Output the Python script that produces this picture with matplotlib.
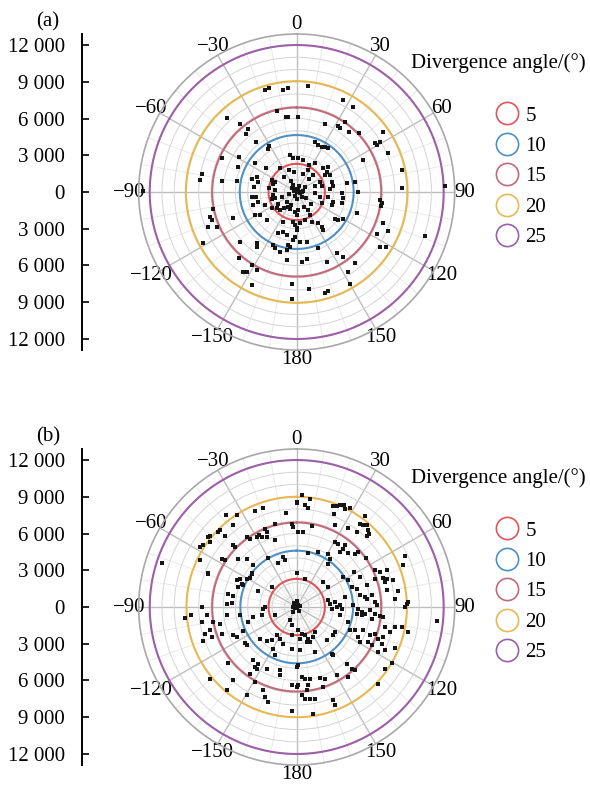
import numpy as np
import matplotlib
matplotlib.use("Agg")
import matplotlib.pyplot as plt
from matplotlib.lines import Line2D

plt.rcParams['font.family'] = ['Liberation Serif', 'DejaVu Serif']
plt.rcParams['font.size'] = 15
plt.rcParams['axes.unicode_minus'] = True

# ---------------- data ----------------
# divergence-angle contour radii
div_angles = [5, 10, 15, 20, 25]
div_colors = ['#e0555a', '#4f8fc4', '#c06a7c', '#e6b955', '#9c5fa8']
radii_a = [2300, 4650, 6900, 9050, 12000]
radii_b = [2300, 4600, 6900, 9000, 12000]

# left scale tick values
yticks_vals = [12000, 9000, 6000, 3000, 0, -3000, -6000, -9000, -12000]
angle_ticks = [0, 30, 60, 90, 120, 150, 180, 210, 240, 270, 300, 330]
angle_labels = ['0', '30', '60', '90', '120', '150', '180',
                '\u2212150', '\u2212120', '\u221290', '\u221260', '\u221230']

# scatter points (east, north components in thousands)
a_x = [-2.59, -2.24, -1.09, -0.74, -1.64, -0.90, -0.74, -5.66, -4.63, -3.95,
       -4.14, -3.32, -2.26, -2.32, -6.13, -4.68, -3.40, -2.51, -4.77, -0.55,
       -0.33, -0.60, -0.22, -7.76, -7.89, -6.13, -4.90, -3.68, -3.27, -3.13,
       -3.46, -2.05, -1.91, -12.57, -1.77, -0.14,
       -6.81, -7.08, -6.89, -7.21, -6.48, -7.62, -5.17, -4.63, -4.68, -3.68,
       -4.36, -4.09, -3.27, -3.68, -3.27, -3.22, -1.91, -1.77, -1.37, -0.82,
       -0.69, -0.55, -0.82, -1.50, -1.09, -0.82, -0.28, -0.14, -0.41, -0.41,
       -3.68, -3.32, -3.13, -3.54, -2.59, -2.05, -3.40, -3.00, -2.45, -1.91,
       -1.77, -1.64, -1.37, -0.69, -0.55, -0.14, 0.00, -0.28, -0.14, 0.00, -1.09,
       0.95, 3.80, 4.62, 0.13, 2.31, 3.40, 3.53, 3.94, 4.27, 5.08,
       7.07, 6.39, 6.52, 6.80, 7.42, 1.49, 1.76, 2.04, 2.31, 2.58,
       5.44, 8.56, 8.56, 12.10, 0.13, 0.54, 1.49, 2.17, 2.44, 2.58,
       2.31, 2.72, 0.95, 1.36, 1.90, 2.04, 2.85, 2.99, 2.72, 4.08,
       4.76, 5.03, 0.13, 0.40,
       3.67, 3.80, 3.67, 2.58, 2.99, 2.85, 1.49, 1.90, 2.04, 3.12,
       3.34, 3.80, 4.89, 6.80, 6.99, 6.88, 7.07, 7.48, 6.52, 6.80,
       7.26, 10.47, 1.76, 2.04, 2.17, 0.68, 1.22, 0.27, 0.81, 1.76,
       3.26, 3.80, 2.50, 4.76, 4.16, 0.46, 0.81, 4.35, 1.00, 2.31,
       2.58, 0.13, 0.27, 0.00, 0.95, 1.09,
       0.10, -0.20, 0.30, -0.10, 0.20, -0.40, 0.50, 0.00, -0.60, 0.40,
       -0.30, 0.70, 0.00,
       -1.50, -1.00, -0.50, -2.00, -1.20, -0.80, -2.30, -1.80, -1.00, -0.50,
       1.00, 1.50, 0.80, 1.20, 0.60, 1.00, 0.50, -1.40]
a_y = [8.33, 8.52, 8.33, 8.47, 6.62, 6.16, 6.10, 6.02, 5.53, 5.15,
       4.71, 4.12, 3.76, 3.52, 2.76, 2.84, 2.35, 1.99, 2.02, 3.03,
       2.76, 1.80, 1.67, 1.45, 0.99, 0.93, 0.93, 1.07, 1.26, 0.80,
       0.44, 0.99, 0.63, 0.10, 0.17, 0.25,
       -1.42, -2.02, -2.29, -2.89, -2.89, -4.19, -2.15, -4.06, -5.42, -5.96,
       -6.50, -6.50, -6.37, -7.59, -4.19, -4.46, -4.33, -4.60, -4.87, -4.74,
       -4.33, -4.52, -5.55, -3.38, -3.24, -3.51, -3.92, -3.65, -7.51, -8.76,
       -0.38, -0.44, -0.79, -1.06, -1.06, -1.34, -1.88, -1.88, -2.29, -0.25,
       -0.52, -1.34, -1.47, -1.20, -1.42, -1.61, -1.88, -2.42, -2.70, -2.97, -2.42,
       8.69, 7.52, 6.97, 6.16, 5.53, 5.42, 5.26, 5.69, 4.93, 4.80,
       4.88, 3.98, 3.84, 4.06, 3.16, 4.12, 3.84, 3.71, 3.71, 3.63,
       2.62, 1.80, 0.36, 0.50, 2.76, 2.62, 2.35, 1.94, 1.67, 2.08,
       1.40, 1.40, 1.80, 1.40, 0.85, 0.53, 0.85, 0.53, 0.25, 0.72,
       0.85, 0.04, 0.17, 0.04,
       -0.11, -0.52, -0.93, -0.38, -0.79, -1.06, -0.11, -0.38, -0.93, -2.23,
       -2.29, -2.23, -1.69, -0.66, -0.93, -1.15, -2.56, -3.16, -3.43, -4.52,
       -4.46, -3.57, -2.56, -2.83, -3.10, -2.29, -2.42, -4.06, -4.06, -4.60,
       -4.95, -5.28, -5.69, -5.77, -6.50, -5.69, -5.47, -7.51, -7.92, -8.27,
       -8.05, -1.47, -2.56, -3.10, -1.47, -1.88,
       0.20, 0.10, -0.10, -0.30, 0.50, 0.30, 0.10, -0.60, -0.20, -0.40,
       0.60, 0.40, 0.00,
       -1.00, -1.30, -1.10, -0.60, -0.40, -0.80, 0.30, 0.80, 1.20, 0.90,
       1.10, 0.50, -0.50, -1.00, -1.20, 2.20, 1.50, 2.00]

b_x = [-3.41, -2.73, -5.77, -4.85, -0.90, 0.00, -5.17, -1.77, -0.41, -0.28,
       -2.59, -2.45, -6.26, -6.40, -7.08, -7.21, -5.85, -7.62, -7.89, -7.08,
       -5.17, -5.04, -4.09, -3.81, -3.27, -3.05, -2.86, -2.40, -1.77, -6.13,
       -5.85, -4.77, -7.89, -11.02, -4.09, -2.32, -1.09, -0.96, -1.50, -3.54,
       -3.68, -7.21, 0.00,
       0.40, 1.08, 0.00, 0.68, 0.89, 2.99, 3.26, 3.53, 3.89, 3.94,
       4.35, 3.07, 5.57, 5.16, 5.44, 5.71, 5.79, 5.90, 5.71, 4.89,
       4.21, 3.12, 1.22, 0.13, 0.54, 3.12, 3.40, 3.94, 3.80, 3.53,
       4.21, 4.76, 5.03, 5.63, 8.84, 8.70, 6.39, 6.80, 7.34, 2.58,
       2.72, 2.58, 0.95, 1.76, 4.70,
       -7.21, -4.90, -4.63, -4.49, -4.77, -4.36, -4.09, -3.81, -3.68, -2.05,
       -3.13, -5.58, -5.17, -5.72, -5.31, -7.76, -2.59, -2.73, -0.28, -9.12,
       -8.66, -7.35, -7.76, -6.81, -6.26, -5.72, -4.63, -3.54, -2.86, -3.95,
       -1.77, -0.55, -0.41, -7.49, -7.08, -6.94, -7.62, -6.13, -5.17, -4.90,
       -4.36, -4.22, -4.09, -3.00, -2.45, -2.05, -1.64, -1.37, -1.91, -0.41,
       -1.09, -1.77, -0.41, -5.58, -3.54, -3.41, -3.27, -3.13, -2.45, -1.37,
       -1.37, 0.00, -3.81, -7.08, -5.17, -3.41, -2.73, -5.72, -0.41, 0.00,
       -4.09, -2.59, -2.32, -0.41,
       0.68, 2.17, 2.58, 3.80, 4.21, 4.48, 5.16, 5.71, 6.39, 7.07,
       7.34, 7.20, 7.88, 7.34, 8.29, 8.02, 4.89, 3.94, 5.16, 5.57,
       5.71, 6.12, 6.39, 6.52, 8.97, 9.11, 8.84, 2.58, 2.72, 2.85,
       3.12, 3.26, 3.53, 3.67, 3.53, 4.62, 5.03, 5.30, 5.57, 5.98,
       6.39, 6.80, 7.07, 4.89, 5.30, 6.12, 4.21, 4.35, 4.76, 5.44,
       5.98, 6.39, 6.66, 7.07, 7.20, 7.61, 8.02, 8.56, 9.11, 8.02,
       6.93, 7.20, 7.80, 7.20, 6.66, 5.84, 6.12, 5.03, 5.16, 3.12,
       2.99, 2.44, 1.49, 1.36, 0.95, 0.81, 1.08, 0.13, 0.40, 0.68,
       0.27, 2.85, 2.99, 1.49, 4.08, 4.48, 4.76, 3.26, 4.21, 2.31,
       1.90, 0.40, 0.68, 1.08, 0.13, 0.95, 2.17, 0.81, 0.40, 0.68,
       1.08, 1.49, 2.99, 3.12, 6.66, 1.36, 11.42, 0.13, 0.27,
       0.00, 0.10, -0.10, 0.20, -0.20, 0.00, 0.30, -0.30]
b_y = [7.81, 8.08, 7.49, 7.49, 7.68, 8.49, 6.72, 6.75, 6.75, 6.53,
       6.40, 6.13, 6.26, 6.13, 5.80, 5.72, 5.80, 5.04, 4.90, 5.31,
       5.04, 4.90, 5.72, 5.55, 5.72, 5.85, 5.72, 5.72, 5.45, 3.95,
       3.87, 3.95, 3.87, 3.62, 3.95, 4.00, 4.09, 3.87, 3.62, 3.41,
       2.78, 2.78, 2.78,
       9.12, 8.85, 8.57, 8.30, 8.11, 8.22, 8.22, 8.30, 8.30, 8.03,
       8.11, 7.62, 7.40, 6.75, 6.67, 6.67, 6.26, 5.99, 5.80, 6.13,
       6.48, 6.67, 6.59, 6.13, 6.13, 5.31, 5.12, 5.04, 4.77, 4.49,
       4.41, 4.36, 4.49, 4.03, 4.14, 3.41, 3.00, 2.86, 3.00, 4.36,
       3.95, 3.54, 4.41, 4.49, 2.86,
       2.72, 2.18, 2.32, 1.91, 1.64, 1.77, 2.26, 2.37, 2.72, 1.64,
       1.31, 1.09, 0.90, 0.28, 0.36, 0.00, 0.00, -0.13, 0.00, -0.89,
       -0.62, -0.68, -1.22, -1.22, -1.36, -0.68, -0.68, -0.81, -0.68, -1.22,
       -0.68, -1.08, -1.44, -2.17, -1.90, -2.44, -2.80, -2.17, -2.31, -2.44,
       -1.98, -2.91, -3.07, -2.58, -2.80, -2.72, -2.31, -2.58, -3.40, -2.31,
       -2.99, -3.89, -3.45, -4.54, -4.35, -4.89, -5.03, -4.62, -5.03, -5.16,
       -5.52, -4.89, -5.44, -5.84, -5.98, -6.12, -6.80, -6.80, -6.39, -6.52,
       -7.20, -7.34, -7.75, -8.51,
       2.32, 2.04, 1.64, 2.45, 2.18, 1.64, 2.45, 1.83, 2.32, 2.37,
       2.32, 2.04, 2.18, 1.36, 1.28, 0.68, 1.50, 0.82, 0.96, 0.82,
       0.63, 1.01, 0.41, 0.14, 0.28, 0.41, 0.00, 0.55, 0.28, -0.13,
       0.41, 0.00, 0.14, -0.13, -0.68, 0.14, -0.13, -0.40, -0.54, -0.27,
       -0.54, -0.73, -0.81, -0.54, -0.68, -0.95, -1.22, -1.90, -1.90, -1.90,
       -2.31, -2.17, -2.58, -2.44, -1.63, -2.04, -1.63, -1.63, -2.04, -3.34,
       -2.99, -3.53, -4.57, -5.03, -3.67, -2.85, -3.12, -2.44, -2.85, -2.04,
       -2.31, -2.72, -2.04, -2.44, -2.58, -2.85, -2.85, -1.90, -2.17, -2.31,
       -2.58, -3.80, -3.94, -3.67, -4.62, -5.03, -5.16, -5.57, -5.71, -5.84,
       -5.79, -5.71, -5.84, -5.90, -6.39, -6.39, -6.52, -6.80, -7.20, -7.48,
       -7.48, -7.48, -7.61, -8.02, -6.25, -8.70, -1.17, -4.76, -3.53,
       0.00, 0.20, -0.10, -0.30, 0.30, 0.50, 0.10, -0.40]

# ---------------- figure ----------------
W, H = 590, 786
fig = plt.figure(figsize=(W / 100, H / 100), dpi=100)

RMAX = 12900
R_PX = 158          # pixel radius of polar frame
CX = 296.7


def draw_panel(cy, xs, ys, radii, tag):
    bottom = (H - cy - R_PX) / H
    hgt = 2 * R_PX / H
    ax = fig.add_axes([(CX - R_PX) / W, bottom, 2 * R_PX / W, hgt],
                      projection='polar')
    ax.set_theta_zero_location('N')
    ax.set_theta_direction(-1)
    ax.set_ylim(0, RMAX)

    # grids
    ax.set_yticks(np.arange(1000, 12001, 1000))
    ax.set_yticklabels([])
    ax.yaxis.grid(True, color='#d4d4d4', lw=0.7)
    ax.set_xticks(np.deg2rad(angle_ticks))
    ax.set_xticklabels(angle_labels, fontsize=15)
    ax.set_xticks(np.deg2rad(np.arange(0, 360, 10)), minor=True)
    ax.xaxis.grid(True, which='major', color='#bdbdbd', lw=1.0)
    ax.xaxis.grid(True, which='minor', color='#e6e6e6', lw=0.6)
    ax.tick_params(axis='x', which='major', pad=0, length=0)
    ax.tick_params(axis='x', which='minor', length=0)
    ax.spines['polar'].set_color('#a8a8a8')
    ax.spines['polar'].set_linewidth(1.2)

    th = np.linspace(0, 2 * np.pi, 721)
    for rr, col in zip(radii, div_colors):
        ax.plot(th, np.full_like(th, rr), color=col, lw=1.5, zorder=3)

    xs = np.asarray(xs) * 1000
    ys = np.asarray(ys) * 1000
    theta = np.arctan2(xs, ys)
    r = np.hypot(xs, ys)
    ax.scatter(theta, r, s=12, c='#151515', marker='s', lw=0, zorder=5)

    # left linear scale
    axl = fig.add_axes([81.7 / W, bottom, 0.001, hgt])
    axl.set_ylim(-RMAX, RMAX)
    axl.set_xticks([])
    for s in ['top', 'right', 'bottom']:
        axl.spines[s].set_visible(False)
    axl.spines['left'].set_linewidth(1.4)
    axl.set_yticks(yticks_vals)
    axl.set_yticklabels([f"{abs(v):,}".replace(',', ' ') for v in yticks_vals],
                        fontsize=15)
    axl.tick_params(axis='y', direction='in', length=5, width=1.2, pad=12)
    axl.patch.set_visible(False)

    fig.text(48 / W, 1 - (cy - 170) / H, tag, ha='center', va='center',
             fontsize=15)
    fig.text(498 / W, 1 - (cy - 129) / H, 'Divergence angle/(\u00b0)',
             ha='center', va='center', fontsize=15)

    handles = [Line2D([], [], marker='o', ls='none', mfc='none', mec=c,
                      ms=16, mew=1.2) for c in div_colors]
    fig.legend(handles, [str(v) for v in div_angles], loc='upper left',
               bbox_to_anchor=(494 / W, 1 - (cy - 86) / H), frameon=False,
               fontsize=15, handletextpad=0.3, labelspacing=0.52,
               borderpad=0, borderaxespad=0, handlelength=1.2)


draw_panel(192, a_x, a_y, radii_a, '(a)')
draw_panel(607, b_x, b_y, radii_b, '(b)')

fig.savefig('out.png', dpi=100)
